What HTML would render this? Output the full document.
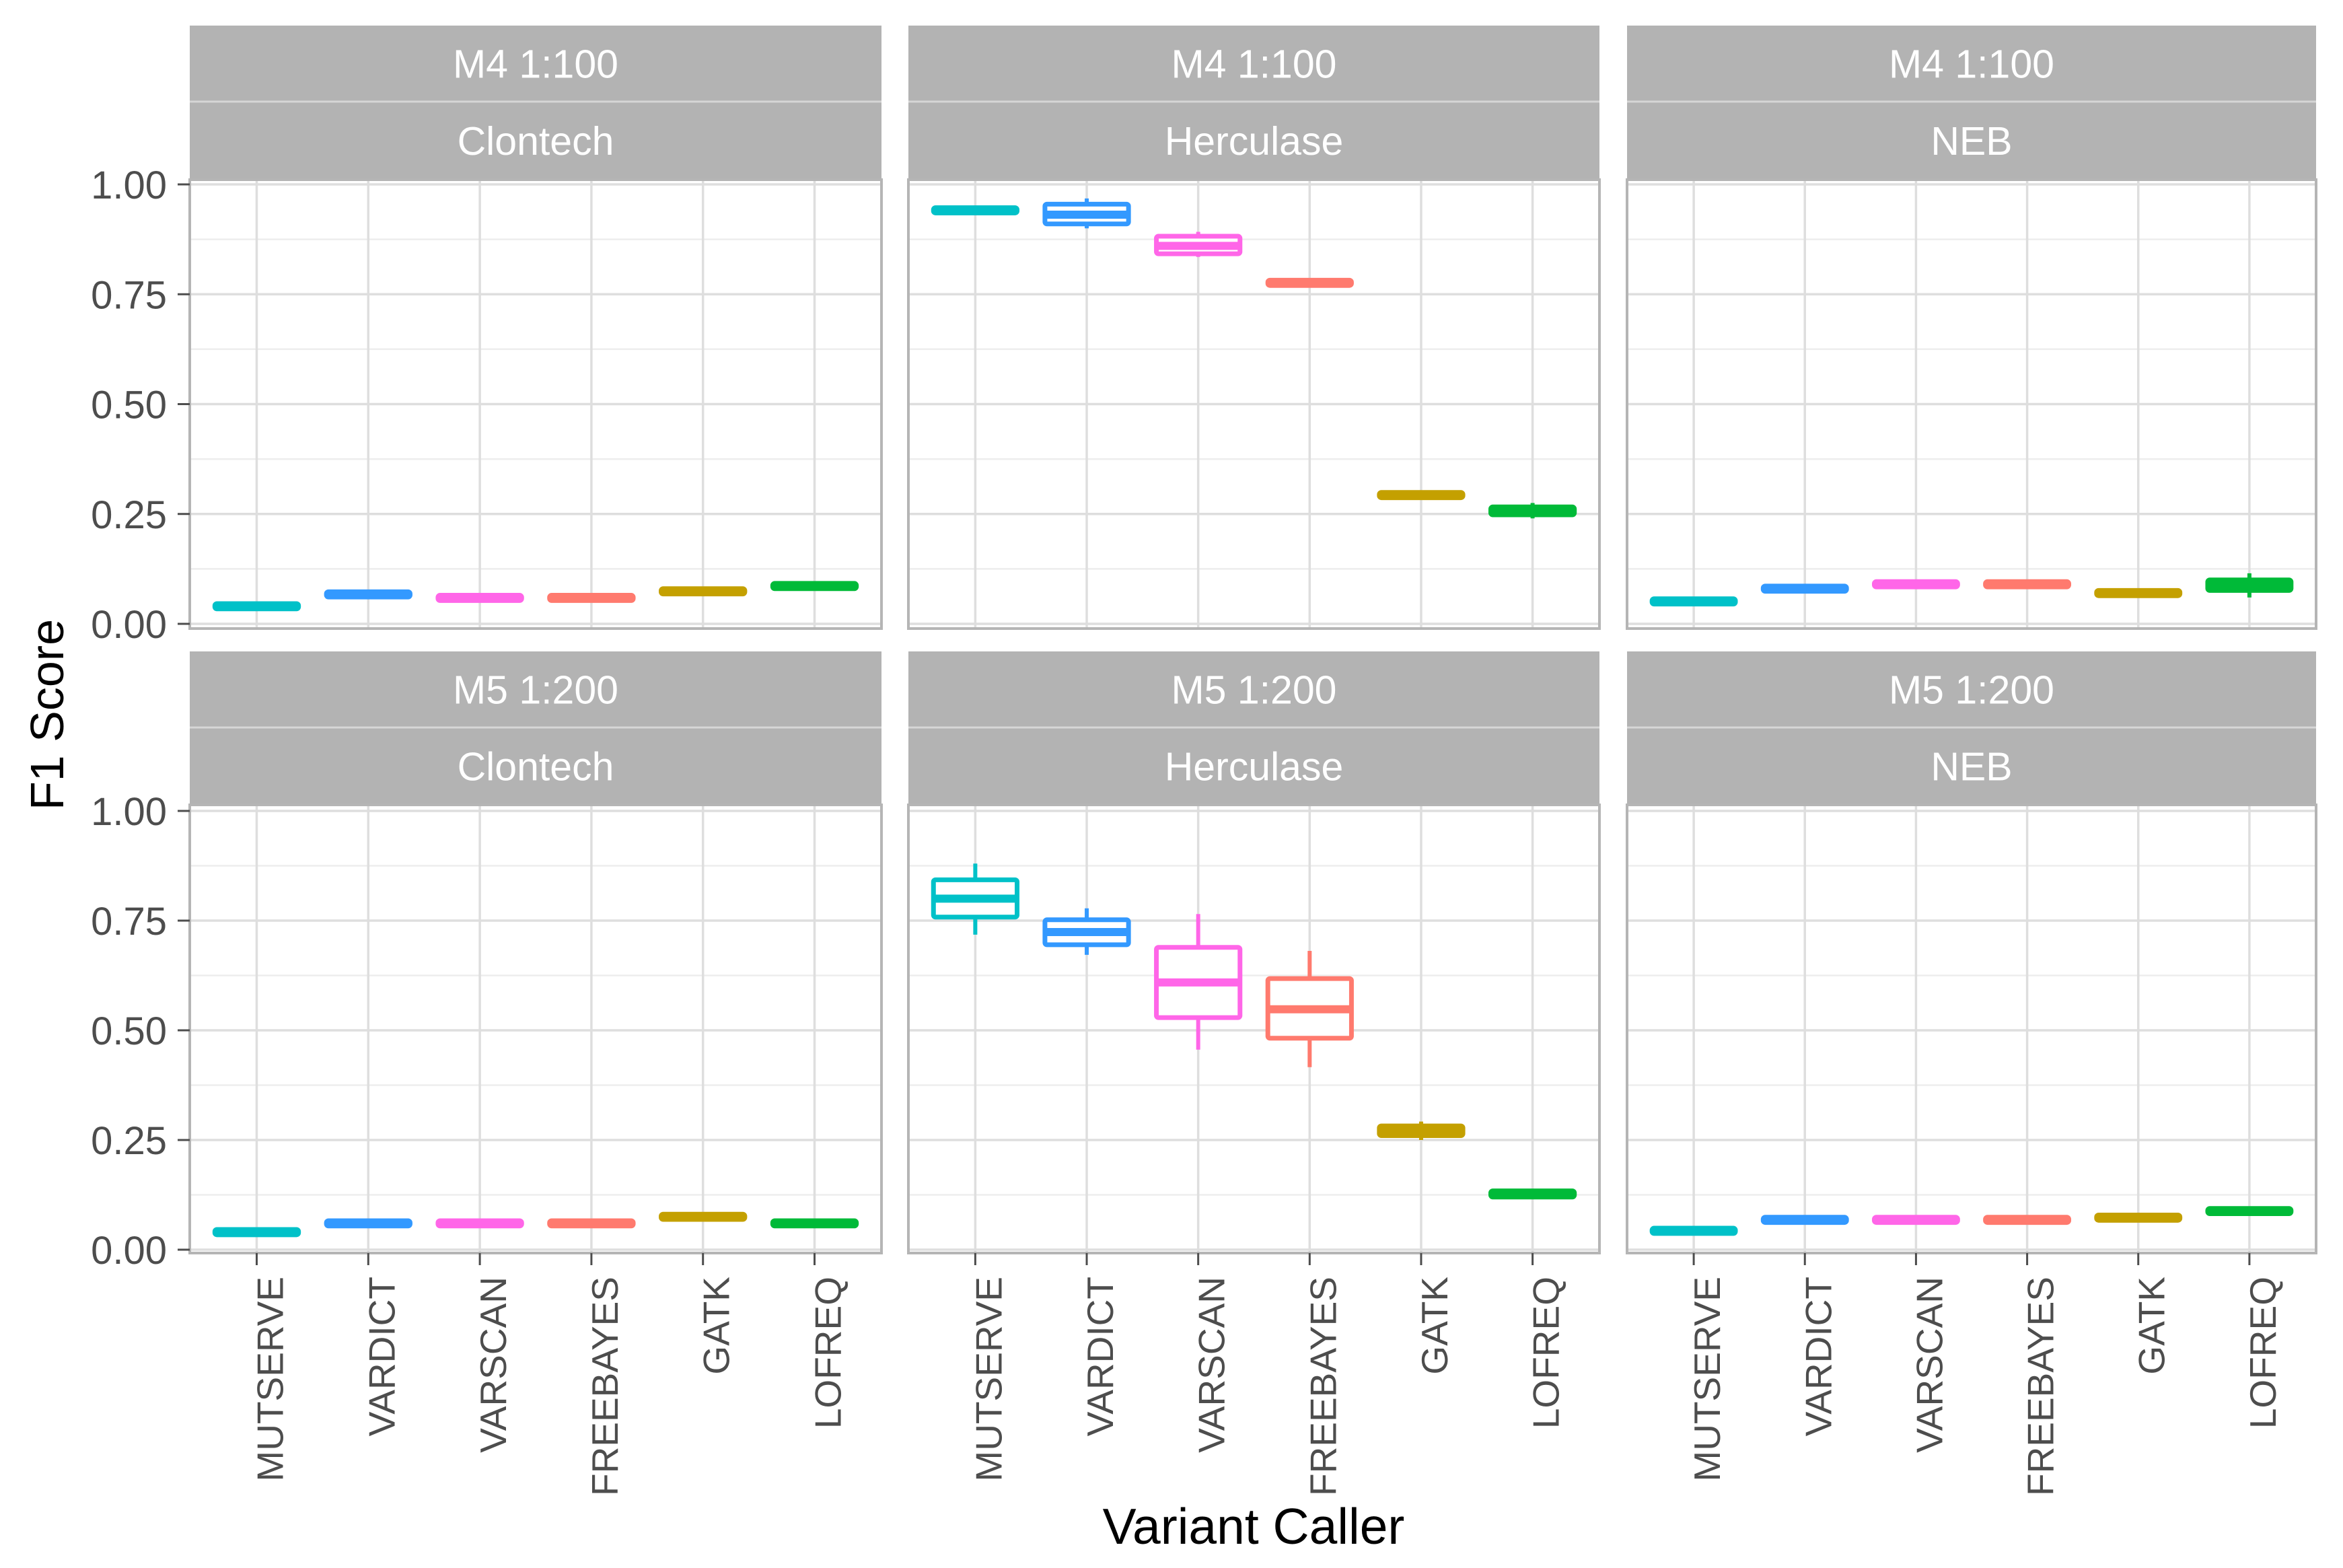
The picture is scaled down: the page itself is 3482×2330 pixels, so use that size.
<!DOCTYPE html>
<html><head><meta charset="utf-8"><style>
html,body{margin:0;padding:0;background:#fff;}
svg{display:block;font-family:"Liberation Sans",sans-serif;}
</style></head><body>
<svg id="chart" width="3482" height="2330" viewBox="0 0 3482 2330">
<text x="1863" y="2294" text-anchor="middle" font-size="75" fill="#000">Variant Caller</text>
<text x="0" y="0" transform="translate(94,1062) rotate(-90)" text-anchor="middle" font-size="70" fill="#000">F1 Score</text>
</svg>
<script>
const callers = ["MUTSERVE","VARDICT","VARSCAN","FREEBAYES","GATK","LOFREQ"];
const colors = ["#00C1C8","#3399FF","#FF66E8","#FF7A6E","#C4A000","#00BA38"];
const yTicks = [0,0.25,0.5,0.75,1];
const yTickLabels = ["0.00","0.25","0.50","0.75","1.00"];
const rowLabels = ["M4 1:100","M5 1:200"];
const colLabels = ["Clontech","Herculase","NEB"];
// each box: [lowWhisker, q1, median, q3, highWhisker]
const m4Clontech = [[0.036,0.034,0.040,0.046,0.044],[0.062,0.061,0.067,0.073,0.072],[0.054,0.053,0.059,0.065,0.064],[0.054,0.053,0.059,0.065,0.064],[0.069,0.068,0.074,0.080,0.079],[0.081,0.080,0.086,0.092,0.091]];
const m4Herculase = [[0.936,0.935,0.941,0.947,0.946],[0.900,0.910,0.931,0.955,0.968],[0.835,0.842,0.860,0.882,0.892],[0.771,0.770,0.776,0.782,0.781],[0.288,0.287,0.293,0.299,0.298],[0.240,0.248,0.257,0.266,0.275]];
const m4NEB = [[0.046,0.045,0.051,0.057,0.056],[0.075,0.074,0.080,0.086,0.085],[0.085,0.084,0.090,0.096,0.095],[0.085,0.084,0.090,0.096,0.095],[0.065,0.064,0.070,0.076,0.075],[0.060,0.076,0.085,0.100,0.115]];
const m5Clontech = [[0.036,0.034,0.040,0.046,0.044],[0.055,0.054,0.060,0.066,0.065],[0.055,0.054,0.060,0.066,0.065],[0.055,0.054,0.060,0.066,0.065],[0.070,0.069,0.075,0.081,0.080],[0.055,0.054,0.060,0.066,0.065]];
const m5Herculase = [[0.718,0.758,0.800,0.843,0.880],[0.672,0.695,0.724,0.752,0.778],[0.456,0.529,0.609,0.689,0.765],[0.416,0.482,0.548,0.618,0.681],[0.250,0.260,0.270,0.282,0.292],[0.121,0.120,0.127,0.134,0.133]];
const m5NEB = [[0.038,0.037,0.043,0.049,0.048],[0.063,0.062,0.068,0.074,0.073],[0.063,0.062,0.068,0.074,0.073],[0.063,0.062,0.068,0.074,0.073],[0.068,0.067,0.073,0.079,0.078],[0.083,0.082,0.088,0.094,0.093]];
const panelData = [[m4Clontech,m4Herculase,m4NEB],[m5Clontech,m5Herculase,m5NEB]];

const NS="http://www.w3.org/2000/svg";
const svg=document.getElementById('chart');
const colX=[[282,1310],[1350,2377],[2418,3442]];
const rows=[{stripTop:38,stripMid:151,stripBot:267,pTop:267,pBot:934,y0:927,y1:274},{stripTop:968,stripMid:1081,stripBot:1196,pTop:1196,pBot:1862,y0:1857,y1:1205}];
function mk(tag,attrs,parent){const e=document.createElementNS(NS,tag);for(const k in attrs)e.setAttribute(k,attrs[k]);(parent||svg).appendChild(e);return e;}

rows.forEach((r,ri)=>{
  const yScale=v=>r.y0+(r.y1-r.y0)*v;
  colX.forEach((c,ci)=>{
    const xL=c[0],xR=c[1];
    const step=(xR-xL)/(callers.length-1+1.2);
    const xScale=i=>xL+step*(0.6+i);
    const g=mk('g',{});
    
    
    const s1=mk('rect',{x:xL,y:r.stripTop,width:xR-xL,height:r.stripMid-r.stripTop,fill:'#b3b3b3'},g);
    
    
    const s2=mk('rect',{x:xL,y:r.stripMid,width:xR-xL,height:r.stripBot-r.stripMid,fill:'#b3b3b3'},g);
    
    
    mk('line',{x1:xL,x2:xR,y1:r.stripMid,y2:r.stripMid,stroke:'#d6d6d6','stroke-width':3},g);
    const t1=mk('text',{x:(xL+xR)/2,y:(r.stripTop+r.stripMid)/2+21,'text-anchor':'middle','font-size':59,fill:'#fff'},g);
    t1.textContent=rowLabels[ri];
    
    
    const t2=mk('text',{x:(xL+xR)/2,y:(r.stripMid+r.stripBot)/2+21,'text-anchor':'middle','font-size':59,fill:'#fff'},g);
    t2.textContent=colLabels[ci];
    
    
    for(let k=0;k<yTicks.length-1;k++){const v=(yTicks[k]+yTicks[k+1])/2;const y=yScale(v);mk('line',{x1:xL,x2:xR,y1:y,y2:y,stroke:'#ededed','stroke-width':2.5},g);}
    yTicks.forEach(v=>{const y=yScale(v);mk('line',{x1:xL,x2:xR,y1:y,y2:y,stroke:'#dedede','stroke-width':3.5},g);});
    callers.forEach((n,i)=>{const x=xScale(i);mk('line',{x1:x,x2:x,y1:r.pTop,y2:r.pBot,stroke:'#dedede','stroke-width':3.5},g);});
    const data=panelData[ri][ci];
    const bw=step*0.75;
    data.forEach((d,i)=>{
      const x=xScale(i),col=colors[i];
      const bg=mk('g',{},g);
      
      
      mk('line',{x1:x,x2:x,y1:yScale(d[0]),y2:yScale(d[1]),stroke:col,'stroke-width':6},bg);
      mk('line',{x1:x,x2:x,y1:yScale(d[3]),y2:yScale(d[4]),stroke:col,'stroke-width':6},bg);
      const yt=yScale(d[3]),yb=yScale(d[1]);
      const flat=(yb-yt)<25;
      mk('rect',{x:x-bw/2,y:yt,width:bw,height:Math.max(yb-yt,1),fill:flat?col:'#fff',stroke:col,'stroke-width':7,rx:3},bg);
      const ym=yScale(d[2]);
      mk('line',{x1:x-bw/2,x2:x+bw/2,y1:ym,y2:ym,stroke:col,'stroke-width':12},bg);
    });
    mk('rect',{x:xL,y:r.pTop,width:xR-xL,height:r.pBot-r.pTop,fill:'none',stroke:'#b5b5b5','stroke-width':4},g);
    if(ci===0){
      yTicks.forEach((v,k)=>{const y=yScale(v);
        mk('line',{x1:xL-18,x2:xL,y1:y,y2:y,stroke:'#4d4d4d','stroke-width':3},svg);
        const tl=mk('text',{x:xL-34,y:y+21,'text-anchor':'end','font-size':58,fill:'#4d4d4d'},svg);
        tl.textContent=yTickLabels[k];
        
        
      });
    }
    if(ri===1){
      callers.forEach((n,i)=>{const x=xScale(i);
        mk('line',{x1:x,x2:x,y1:r.pBot,y2:r.pBot+18,stroke:'#4d4d4d','stroke-width':3},svg);
        const tl=mk('text',{x:0,y:0,transform:'translate('+(x+39)+','+(r.pBot+35)+') rotate(-90)','text-anchor':'end','font-size':55,fill:'#4d4d4d'},svg);
        tl.textContent=n;
        
        
      });
    }
  });
});
</script>
</body></html>
